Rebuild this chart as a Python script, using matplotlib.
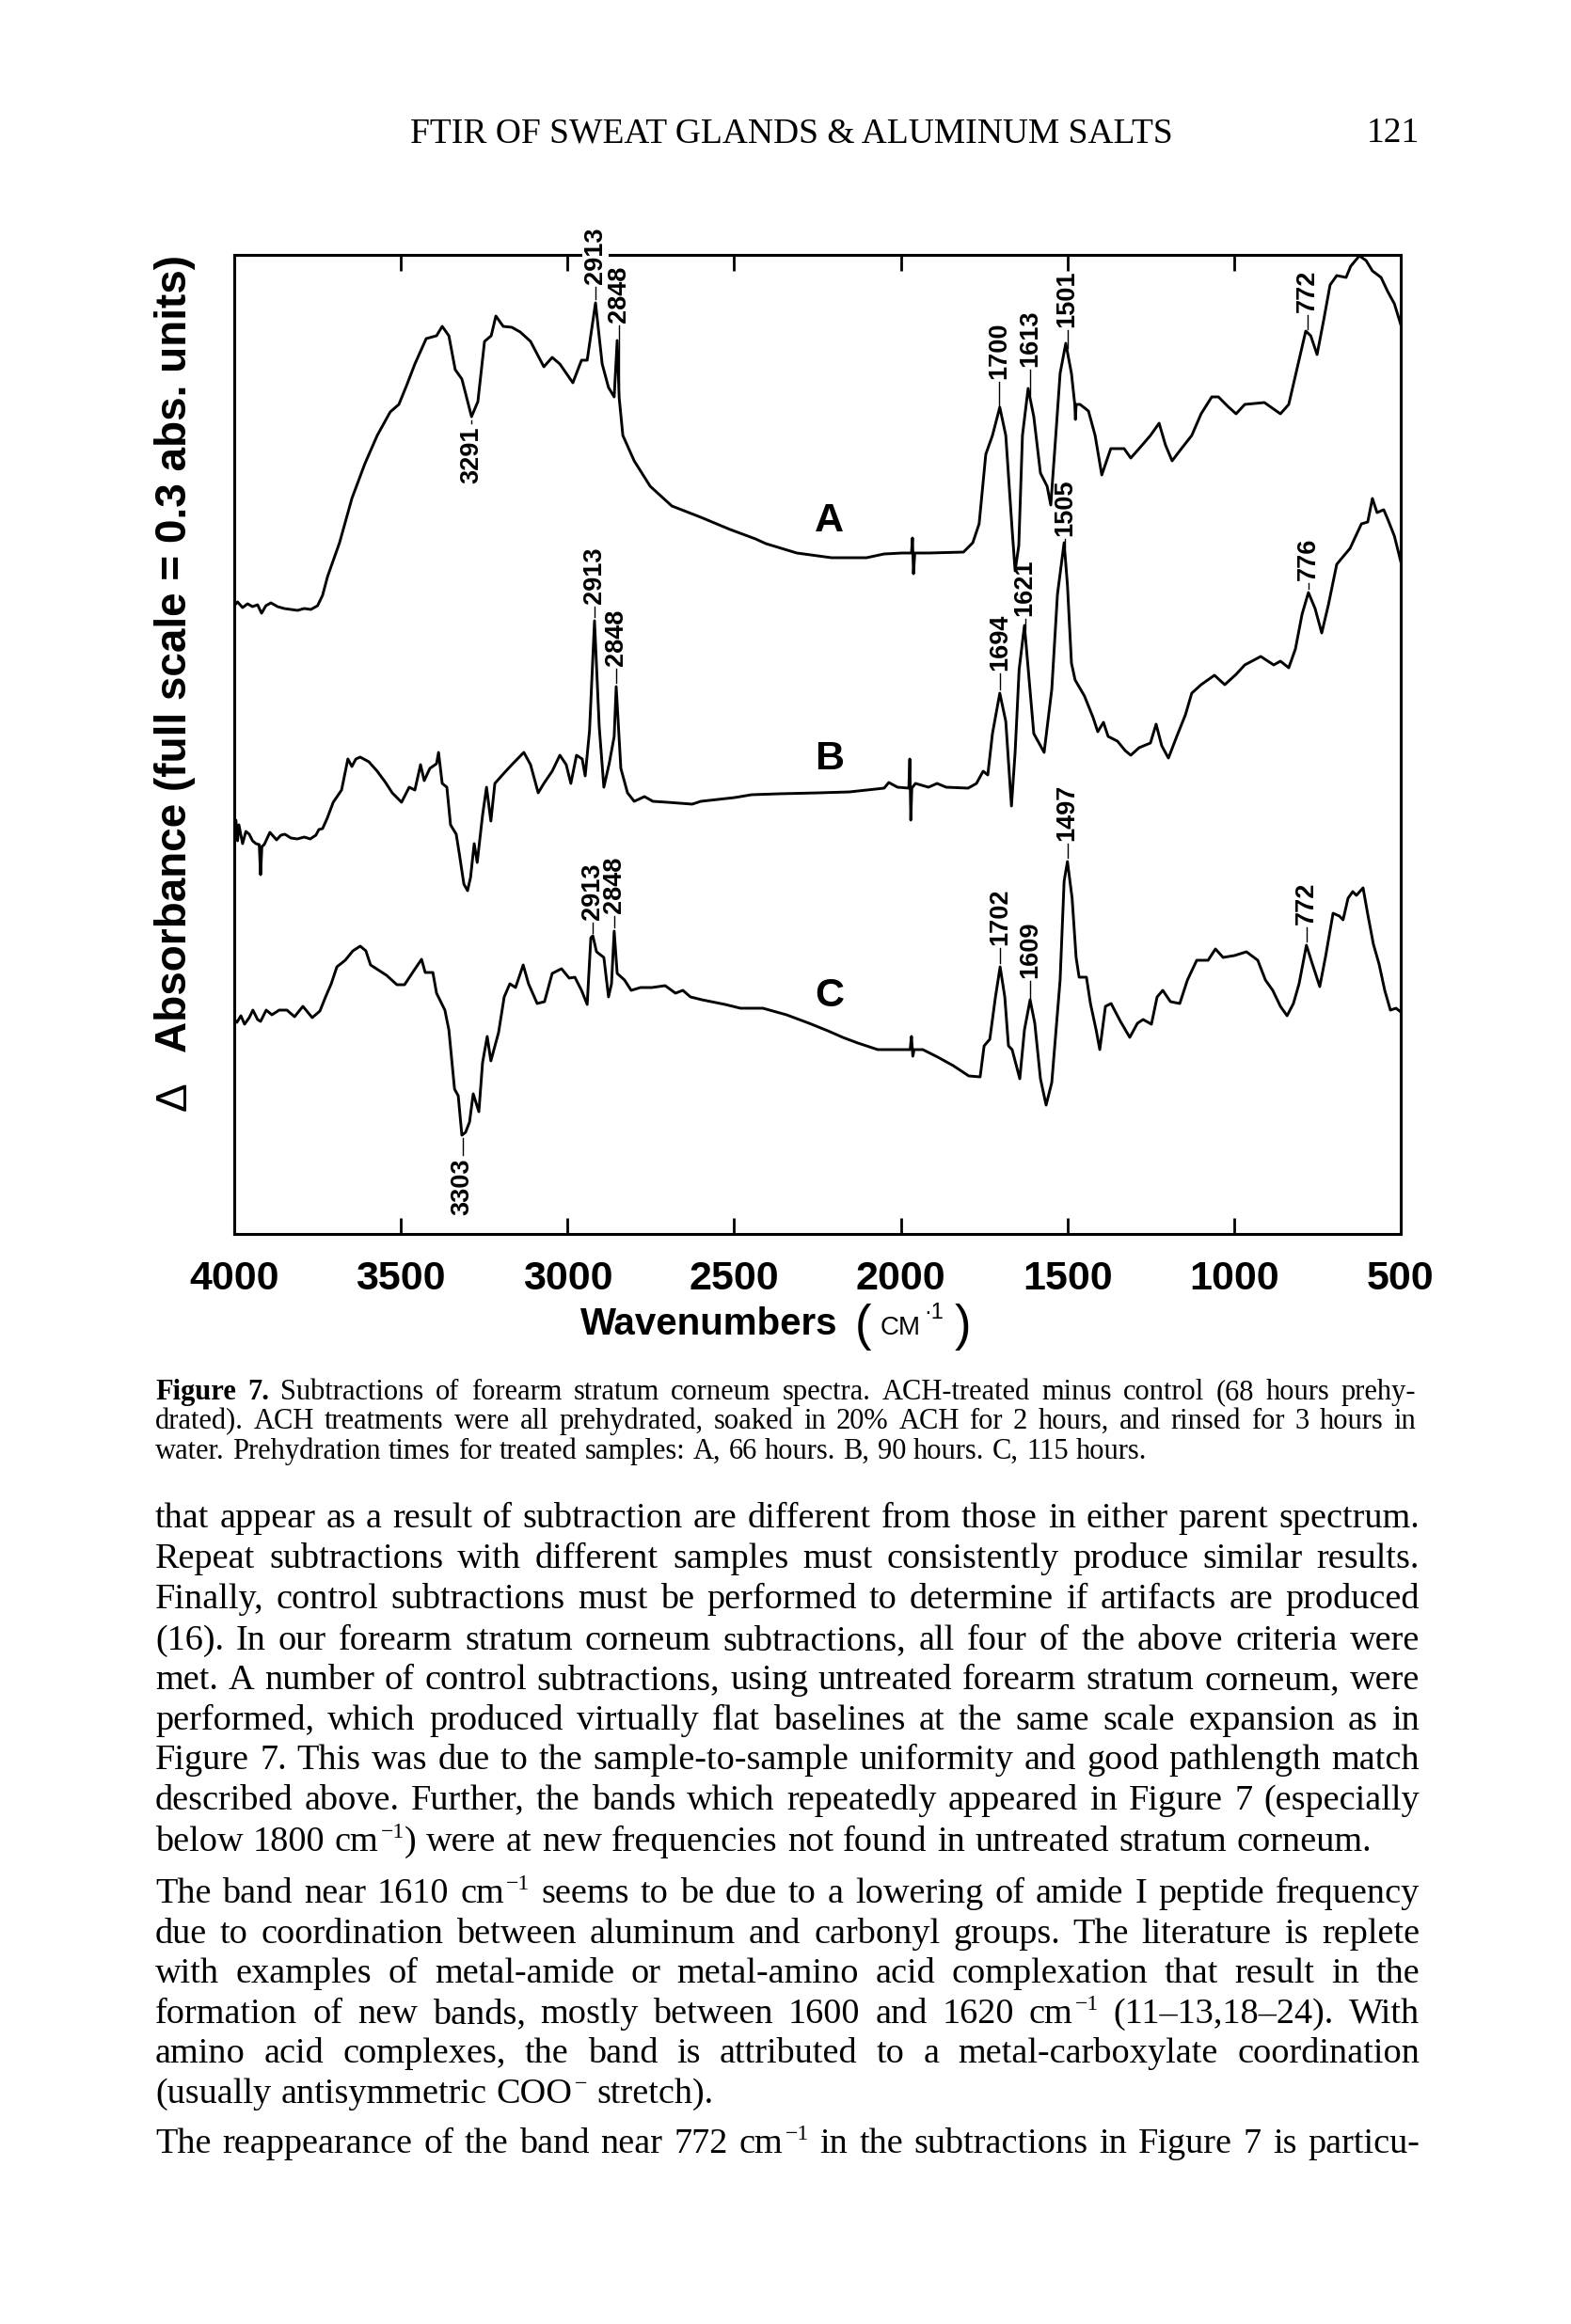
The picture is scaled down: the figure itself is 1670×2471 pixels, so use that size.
"""
Figure 7 page: FTIR subtraction spectra (forearm stratum corneum, ACH treated)
"""

import re
import matplotlib
matplotlib.use('Agg')  # no display
import matplotlib.pyplot as plt
import numpy as np

# page size in pixels
W, H = 1670, 2471
DPI = 100

SERIF = ['Liberation Serif', 'DejaVu Serif']
SANS = ['Liberation Sans', 'DejaVu Sans']

# ---------------- data ----------------
# absorbance in arbitrary units, full scale of the axis = 1041 (0.3 abs. units)
wn_A = [4000, 3990, 3975, 3960, 3945, 3930, 3918, 3905, 3890, 3870, 3850, 3830, 3810, 3790,
        3770, 3750, 3735, 3720, 3684, 3647, 3608, 3571, 3532, 3506, 3483, 3458, 3424, 3393,
        3376, 3356, 3337, 3317, 3288, 3269, 3249, 3229, 3215, 3193, 3167, 3142, 3111, 3071,
        3046, 3023, 2984, 2958, 2941, 2916, 2896, 2877, 2860, 2851, 2845, 2834, 2800, 2752,
        2687, 2600, 2512, 2436, 2405, 2312, 2208, 2103, 2050, 1996, 1968, 1965, 1962, 1958,
        1917, 1812, 1784, 1765, 1745, 1725, 1703, 1685, 1666, 1657, 1646, 1635, 1618, 1601,
        1581, 1561, 1550, 1535, 1522, 1505, 1488, 1478, 1476, 1474, 1462, 1437, 1417, 1397,
        1370, 1330, 1310, 1285, 1251, 1225, 1206, 1186, 1158, 1127, 1099, 1067, 1047, 1019,
        994, 968, 909, 889, 861, 836, 810, 785, 770, 751, 731, 712, 692, 664, 650, 624, 604,
        585, 559, 539, 519, 500]
abs_A = [668, 672, 666, 670, 667, 669, 660, 668, 671, 667, 665, 664, 663, 665,
         664, 668, 679, 699, 735, 782, 819, 849, 874, 882, 902, 925, 952, 955,
         965, 955, 919, 909, 869, 885, 949, 955, 976, 965, 964, 959, 949, 922,
         932, 925, 905, 929, 929, 990, 925, 900, 890, 950, 889, 849, 822, 795,
         774, 762, 749, 739, 734, 724, 719, 719, 723, 724, 724, 740, 702, 724,
         724, 725, 735, 755, 829, 849, 879, 849, 749, 705, 732, 849, 899, 869,
         809, 795, 775, 849, 915, 947, 915, 882, 866, 882, 882, 875, 849, 807,
         835, 835, 825, 835, 849, 862, 839, 822, 835, 849, 872, 890, 890, 880,
         872, 882, 884, 879, 872, 882, 922, 960, 955, 935, 972, 1009, 1019, 1017, 1029, 1040, 1035,
         1024, 1017, 1002, 989, 967]

wn_B = [4000, 3995, 3990, 3986, 3975, 3965, 3955, 3945, 3935, 3925, 3921, 3917, 3910, 3893,
        3873, 3860, 3848, 3830, 3811, 3790, 3772, 3755, 3746, 3735, 3721, 3703, 3678, 3659,
        3647, 3635, 3622, 3596, 3571, 3546, 3526, 3498, 3475, 3458, 3441, 3430, 3413, 3393,
        3387, 3376, 3362, 3351, 3334, 3325, 3311, 3300, 3291, 3280, 3271, 3255, 3243, 3230,
        3218, 3193, 3167, 3131, 3111, 3088, 3071, 3046, 3023, 3004, 2990, 2973, 2956, 2947,
        2934, 2919, 2905, 2891, 2875, 2860, 2854, 2840, 2820, 2800, 2769, 2744, 2701, 2626,
        2600, 2498, 2448, 2366, 2247, 2154, 2050, 2036, 2010, 1976, 1973, 1970, 1967, 1956,
        1917, 1891, 1864, 1798, 1773, 1753, 1739, 1725, 1703, 1685, 1668, 1657, 1645, 1629,
        1615, 1601, 1570, 1547, 1530, 1510, 1500, 1488, 1477, 1449, 1423, 1409, 1392, 1378,
        1350, 1327, 1310, 1285, 1251, 1234, 1217, 1197, 1172, 1146, 1127, 1099, 1059, 1028,
        994, 968, 920, 881, 861, 836, 816, 796, 777, 757, 737, 717, 692, 652, 618, 599, 585,
        571, 551, 539, 519, 500]
abs_B = [420, 440, 418, 435, 415, 428, 425, 418, 415, 414, 382, 412, 414, 427,
         419, 424, 425, 421, 420, 422, 420, 424, 430, 431, 442, 459, 472, 505,
         497, 505, 507, 502, 492, 480, 469, 459, 475, 472, 499, 482, 495, 500,
         512, 479, 475, 435, 425, 405, 372, 365, 379, 415, 395, 445, 475, 439,
         479, 489, 499, 512, 499, 469, 479, 492, 509, 499, 479, 509, 505, 487,
         535, 652, 540, 475, 500, 529, 582, 495, 469, 460, 465, 460, 459, 457,
         460, 464, 467, 468, 469, 470, 474, 480, 475, 474, 505, 440, 474, 479,
         475, 479, 475, 474, 479, 492, 488, 532, 575, 545, 455, 512, 600, 647,
         590, 532, 512, 579, 680, 735, 690, 607, 589, 572, 549, 534, 544, 529,
         524, 514, 509, 517, 522, 542, 519, 506, 529, 552, 575, 584, 594, 584,
         595, 605, 614, 605, 609, 602, 622, 659, 682, 665, 639, 669, 712, 729, 755, 757, 782,
         767, 770, 760, 742, 715]

wn_C = [4000, 3992, 3980, 3969, 3955, 3944, 3930, 3921, 3904, 3887, 3865, 3842, 3819, 3794,
        3766, 3743, 3726, 3709, 3692, 3667, 3644, 3622, 3605, 3591, 3565, 3543, 3512, 3489,
        3461, 3438, 3427, 3404, 3393, 3368, 3356, 3339, 3328, 3317, 3306, 3294, 3283, 3266,
        3255, 3241, 3230, 3207, 3190, 3173, 3156, 3133, 3117, 3091, 3069, 3046, 3018, 2995,
        2978, 2958, 2941, 2930, 2924, 2913, 2891, 2877, 2868, 2860, 2851, 2829, 2809, 2781,
        2747, 2707, 2676, 2654, 2631, 2597, 2527, 2481, 2414, 2343, 2275, 2219, 2174, 2129,
        2069, 1972, 1968, 1964, 1960, 1934, 1889, 1843, 1796, 1762, 1750, 1733, 1716, 1702,
        1688, 1677, 1666, 1643, 1629, 1612, 1598, 1581, 1564, 1547, 1522, 1510, 1500, 1486,
        1474, 1465, 1443, 1431, 1414, 1403, 1386, 1369, 1341, 1313, 1290, 1273, 1248, 1231,
        1214, 1191, 1163, 1140, 1112, 1078, 1056, 1033, 999, 963, 929, 906, 884, 861, 841,
        822, 805, 783, 766, 743, 726, 703, 684, 673, 658, 644, 633, 613, 599, 582, 565, 548,
        531, 514, 500]
abs_C = [228, 225, 232, 223, 230, 238, 228, 226, 238, 233, 238, 238, 231, 242,
         230, 237, 252, 266, 284, 291, 301, 306, 301, 286, 280, 275, 265, 265,
         280, 292, 278, 278, 256, 238, 217, 154, 147, 105, 108, 119, 149, 130,
         182, 210, 184, 214, 252, 266, 262, 286, 266, 245, 247, 277, 282, 272,
         273, 259, 244, 315, 317, 300, 294, 252, 266, 322, 277, 270, 259, 262,
         262, 264, 256, 259, 252, 249, 244, 240, 240, 233, 224, 216, 209, 203,
         196, 196, 210, 189, 196, 196, 188, 179, 168, 167, 200, 207, 252, 284,
         252, 200, 196, 165, 217, 249, 224, 165, 137, 161, 270, 375, 396, 357,
         294, 273, 273, 245, 217, 196, 242, 245, 226, 209, 224, 228, 223, 252,
         259, 247, 245, 270, 291, 291, 303, 294, 296, 300, 291, 270, 259, 242, 232,
         245, 266, 307, 288, 263, 294, 341, 338, 334, 357, 364, 360, 368, 340, 308, 287, 259,
         238, 240, 236]

x_ticks = [4000, 3500, 3000, 2500, 2000, 1500, 1000, 500]
x_tick_labels = ['4000', '3500', '3000', '2500', '2000', '1500', '1000', '500']

# ---------------- page text ----------------
header = 'FTIR OF SWEAT GLANDS & ALUMINUM SALTS'
page_no = '121'

caption = [
    'Figure 7.  Subtractions of forearm stratum corneum spectra. ACH-treated minus control (68 hours prehy-',
    'drated). ACH treatments were all prehydrated, soaked in 20% ACH for 2 hours, and rinsed for 3 hours in',
    'water. Prehydration times for treated samples: A, 66 hours. B, 90 hours. C, 115 hours.',
]

# ^{...} marks a superscript
body = [
    'that appear as a result of subtraction are different from those in either parent spectrum.',
    'Repeat subtractions with different samples must consistently produce similar results.',
    'Finally, control subtractions must be performed to determine if artifacts are produced',
    '(16). In our forearm stratum corneum subtractions, all four of the above criteria were',
    'met. A number of control subtractions, using untreated forearm stratum corneum, were',
    'performed, which produced virtually flat baselines at the same scale expansion as in',
    'Figure 7. This was due to the sample-to-sample uniformity and good pathlength match',
    'described above. Further, the bands which repeatedly appeared in Figure 7 (especially',
    'below 1800 cm^{\u22121}) were at new frequencies not found in untreated stratum corneum.',
    'The band near 1610 cm^{\u22121} seems to be due to a lowering of amide I peptide frequency',
    'due to coordination between aluminum and carbonyl groups. The literature is replete',
    'with examples of metal-amide or metal-amino acid complexation that result in the',
    'formation of new bands, mostly between 1600 and 1620 cm^{\u22121} (11\u201313,18\u201324). With',
    'amino acid complexes, the band is attributed to a metal-carboxylate coordination',
    '(usually antisymmetric COO^{\u2212} stretch).',
    'The reappearance of the band near 772 cm^{\u22121} in the subtractions in Figure 7 is particu-',
]
body_baseline = [1624, 1667, 1710, 1754, 1796, 1839, 1881, 1924, 1968,
                 2023, 2066, 2108, 2151, 2193, 2236, 2289]
body_justify = [True] * 8 + [False] + [True] * 5 + [False] + [True]


def fx(px):
    return px / W


def fy(py):
    return 1 - py / H


fig = plt.figure(figsize=(W / DPI, H / DPI), dpi=DPI, facecolor='white')

# ---------------- spectra ----------------
ax = fig.add_axes([fx(249), fy(1312), fx(1489) - fx(249), fy(271) - fy(1312)])
for wn, ab in [(wn_A, abs_A), (wn_B, abs_B), (wn_C, abs_C)]:
    ax.plot(wn, ab, color='black', lw=2.1, solid_joinstyle='round')

ax.set_xlim(4000, 500)
ax.set_ylim(0, 1041)
ax.set_yticks([])
ax.set_xticks(x_ticks)
ax.set_xticklabels(x_tick_labels)
ax.tick_params(axis='x', direction='in', length=12, width=2.0, top=True,
               labelsize=31, pad=20)
for lab in ax.get_xticklabels():
    lab.set_fontfamily(SANS)
    lab.set_fontweight('bold')
for sp in ax.spines.values():
    sp.set_linewidth(2.2)

# peak labels: (text, wavenumber, anchor height, +1 above / -1 below)
marks = {
    'A': [('3291', 3288, 859, -1), ('2913', 2916, 1010, 1), ('2848', 2846, 969, 1),
          ('1700', 1705, 909, 1), ('1613', 1612, 922, 1), ('1501', 1500, 964, 1),
          ('772', 780, 980, 1)],
    'B': [('2913', 2919, 670, 1), ('2848', 2854, 604, 1), ('1694', 1703, 599, 1),
          ('1621', 1627, 657, 1), ('1505', 1508, 742, 1), ('776', 777, 695, 1)],
    'C': [('3303', 3315, 81, -1), ('2913', 2926, 334, 1), ('2848', 2860, 341, 1),
          ('1702', 1702, 307, 1), ('1609', 1611, 272, 1), ('1497', 1500, 418, 1),
          ('772', 783, 329, 1)],
}
traces = {'A': (wn_A, abs_A), 'B': (wn_B, abs_B), 'C': (wn_C, abs_C)}
for key, lst in marks.items():
    wn_t, ab_t = traces[key]
    for txt, wn, anchor, side in lst:
        peak = np.interp(wn, wn_t[::-1], ab_t[::-1])
        kw = {}
        if key == 'A' and txt == '2913':
            kw['bbox'] = dict(fc='white', ec='none', pad=1)
        ax.text(wn, anchor, txt, rotation=90, ha='center',
                va='bottom' if side > 0 else 'top', fontsize=19.5, weight='bold',
                family=SANS, clip_on=False, zorder=5, **kw)
        lo, hi = (peak + 4, anchor - 3) if side > 0 else (anchor + 3, peak - 4)
        if hi - lo > 2:
            ax.plot([wn, wn], [lo, hi], color='black', lw=1.0)

# trace letters
for letter, hgt in [('A', 758), ('B', 505), ('C', 253)]:
    ax.text(2215, hgt, letter, fontsize=31, weight='bold', ha='center', va='center',
            family=SANS)

# y label
fig.text(fx(186), fy(695), 'Absorbance (full scale = 0.3 abs. units)', rotation=90,
         ha='center', va='center', fontsize=33, weight='bold', family=SANS)
fig.text(fx(186), fy(1166), '\u0394', rotation=90, ha='center', va='center',
         fontsize=33, family=SANS)

renderer = fig.canvas.get_renderer()


def chain(pieces, x0, base):
    """Draw text pieces left to right on one baseline."""
    x = x0
    for txt, size, weight, dy, gap in pieces:
        t = fig.text(fx(x), fy(base + dy), txt, fontsize=size, weight=weight,
                     family=SANS, va='baseline', ha='left')
        x += t.get_window_extent(renderer).width + gap


# x label: Wavenumbers (CM-1)
chain([('Wavenumbers', 29, 'bold', 0, 18),
       ('(', 38, 'normal', 6, 10),
       ('CM', 20, 'normal', 0, 3),
       ('\u00b71', 17, 'normal', -17, 12),
       (')', 38, 'normal', 6, 0)], 617, 1419)

# ---------------- page text ----------------
fig.text(fx(841), fy(151), header, ha='center', va='baseline', fontsize=27, family=SERIF)
fig.text(fx(1509), fy(151), page_no, ha='right', va='baseline', fontsize=27, family=SERIF)


class Word:
    """A word made of normal and superscript segments, drawn as separate texts."""

    def __init__(self, raw, base, size, weight):
        parts = re.split(r'\^\{(.*?)\}', raw)
        self.items = []
        em = size * DPI / 72
        for k, seg in enumerate(parts):
            if not seg:
                continue
            sup = (k % 2 == 1)
            t = fig.text(0, fy(base - (0.36 * em if sup else 0)), seg,
                         fontsize=size * (0.62 if sup else 1.0), family=SERIF,
                         weight=weight, va='baseline', ha='left')
            w = t.get_window_extent(renderer).width
            gap = 0.06 * em if (k % 2 == 0 and k + 1 < len(parts)) else 0
            self.items.append((t, w, gap))
        self.width = sum(w + g for _, w, g in self.items)

    def place(self, x):
        for t, w, g in self.items:
            t.set_x(fx(x))
            x += w + g


def put_line(line, base, x0, x1, size, justify=True, n_bold=0):
    words = [Word(w, base, size, 'bold' if i < n_bold else 'normal')
             for i, w in enumerate(line.split())]
    total = sum(w.width for w in words)
    if justify and len(words) > 1:
        gap = (x1 - x0 - total) / (len(words) - 1)
    else:
        gap = size * DPI / 72 * 0.27
    x = x0
    for w in words:
        w.place(x)
        x += w.width + gap


cap_base = [1488, 1519, 1551]
for i, line in enumerate(caption):
    put_line(line, cap_base[i], 165, 1505, 22, justify=(i < 2), n_bold=2 if i == 0 else 0)

for line, base, just in zip(body, body_baseline, body_justify):
    put_line(line, base, 165, 1509, 27.5, justify=just)

fig.savefig('out.png', dpi=DPI, facecolor='white')
plt.close(fig)
